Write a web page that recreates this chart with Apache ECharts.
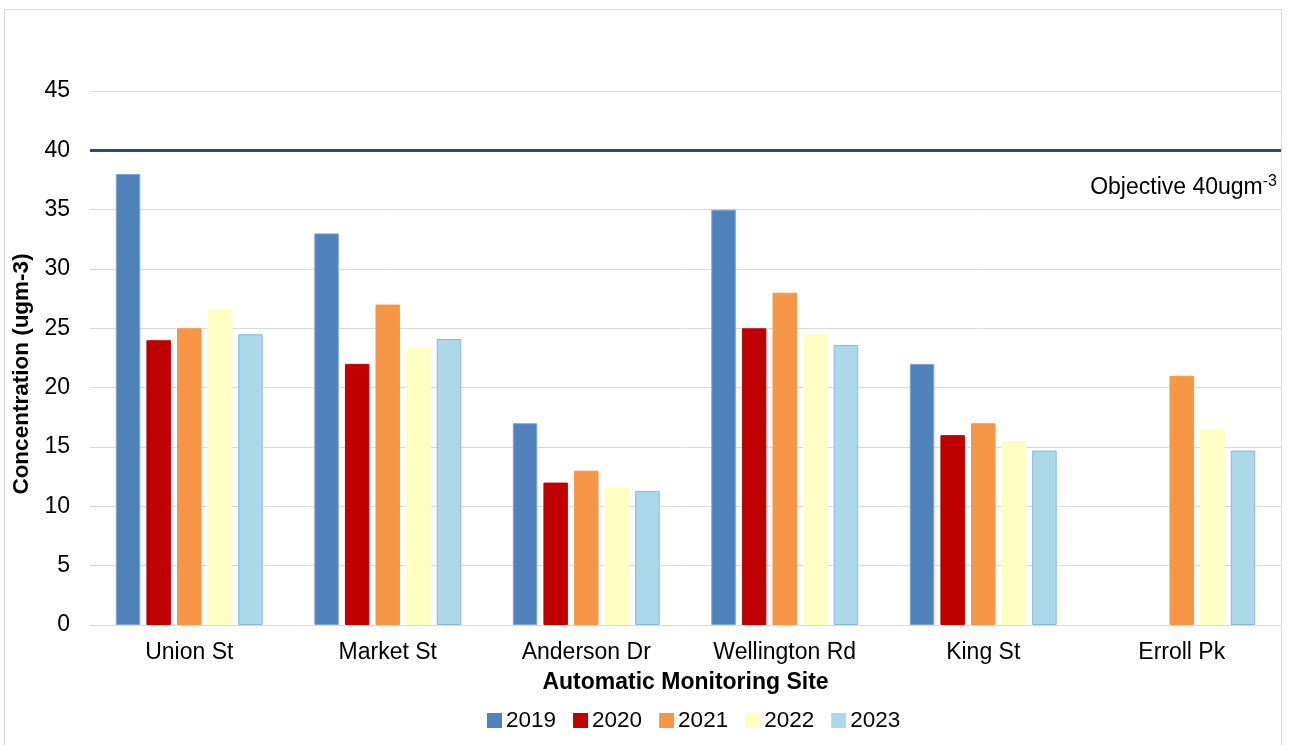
<!DOCTYPE html>
<html><head><meta charset="utf-8">
<script src="https://cdn.jsdelivr.net/npm/echarts@6/dist/echarts.min.js"></script>
<style>
html,body{margin:0;padding:0;background:#fff;}
#frame{position:absolute;left:4px;top:9px;width:1278px;height:740px;border:1px solid #d9d9d9;border-bottom:none;box-sizing:border-box;}
#c{position:absolute;left:0;top:0;width:1289px;height:745px;}
</style></head>
<body>
<div id="frame"></div>
<div id="c"></div>
<script>
const sites = ['Union St','Market St','Anderson Dr','Wellington Rd','King St','Erroll Pk'];
const years = ['2019','2020','2021','2022','2023'];
const v2019 = [38, 33, 17, 35, 22, null];
const v2020 = [24, 22, 12, 25, 16, null];
const v2021 = [25, 27, 13, 28, 17, 21];
const v2022 = [26.6, 23.4, 11.6, 24.5, 15.5, 16.5];
const v2023 = [24.5, 24.1, 11.3, 23.6, 14.7, 14.7];
const yTicks = [0,5,10,15,20,25,30,35,40,45];
const objective = 40;

const values = [v2019, v2020, v2021, v2022, v2023];
const fills = ['#4F81BD','#C00000','#F79646','#FFFFC3','#ABD9E9'];
const borders = ['#7FA3D4','#C00000','#F79646','#FFFFC3','#8DB4E2'];

const font = '"Liberation Sans", Arial, sans-serif';
const chart = echarts.init(document.getElementById('c'), null, {renderer:'canvas'});

const series = years.map((y,i)=>({
  name: y,
  type: 'bar',
  data: values[i],
  barGap: '25%',
  barCategoryGap: '26%',
  itemStyle: {color: fills[i], borderColor: borders[i], borderWidth: 1},
  emphasis: {disabled: true}
}));
series[0].markLine = {
  silent: true,
  symbol: ['none','none'],
  data: [{yAxis: objective}],
  lineStyle: {color: '#1F4E87', width: 3, type: 'solid'},
  label: {
    show: true,
    position: 'insideEndBottom',
    distance: [4, 23],
    formatter: '{a|Objective 40ugm}{b|-3}',
    rich: {
      a: {fontFamily: font, fontSize: 23, color: '#000'},
      b: {fontFamily: font, fontSize: 16, color: '#000', verticalAlign: 'top', padding: [0,0,12,0]}
    }
  }
};

chart.setOption({
  animation: false,
  textStyle: {fontFamily: font},
  grid: {left: 90, right: 8, top: 91, bottom: 120, containLabel: false},
  legend: {
    top: 704,
    left: 482,
    icon: 'rect',
    itemWidth: 15, itemHeight: 15, itemGap: 17,
    itemStyle: {borderWidth: 0},
    textStyle: {fontFamily: font, fontSize: 22.5, color: '#000', padding: [0,0,0,-1]},
    data: years
  },
  xAxis: {
    type: 'category',
    data: sites,
    name: 'Automatic Monitoring Site',
    nameLocation: 'middle',
    nameGap: 46,
    nameTextStyle: {fontFamily: font, fontSize: 23, fontWeight: 'bold', color: '#000'},
    axisLine: {lineStyle: {color: '#d9d9d9', width: 1}},
    axisTick: {show: false},
    axisLabel: {fontFamily: font, fontSize: 23, color: '#000', margin: 16}
  },
  yAxis: {
    type: 'value',
    min: 0, max: 45, interval: 5,
    name: 'Concentration (ugm-3)',
    nameLocation: 'middle',
    nameGap: 52,
    nameRotate: 90,
    nameTextStyle: {fontFamily: font, fontSize: 22.5, fontWeight: 'bold', color: '#000', padding: [0, 32, 0, 0]},
    axisLine: {show: false},
    axisTick: {show: false},
    axisLabel: {fontFamily: font, fontSize: 23, color: '#000', margin: 20,
      formatter: v => yTicks.includes(v) ? String(v) : ''},
    splitLine: {lineStyle: {color: '#d9d9d9', width: 1}}
  },
  series: series
});
</script>
</body></html>
